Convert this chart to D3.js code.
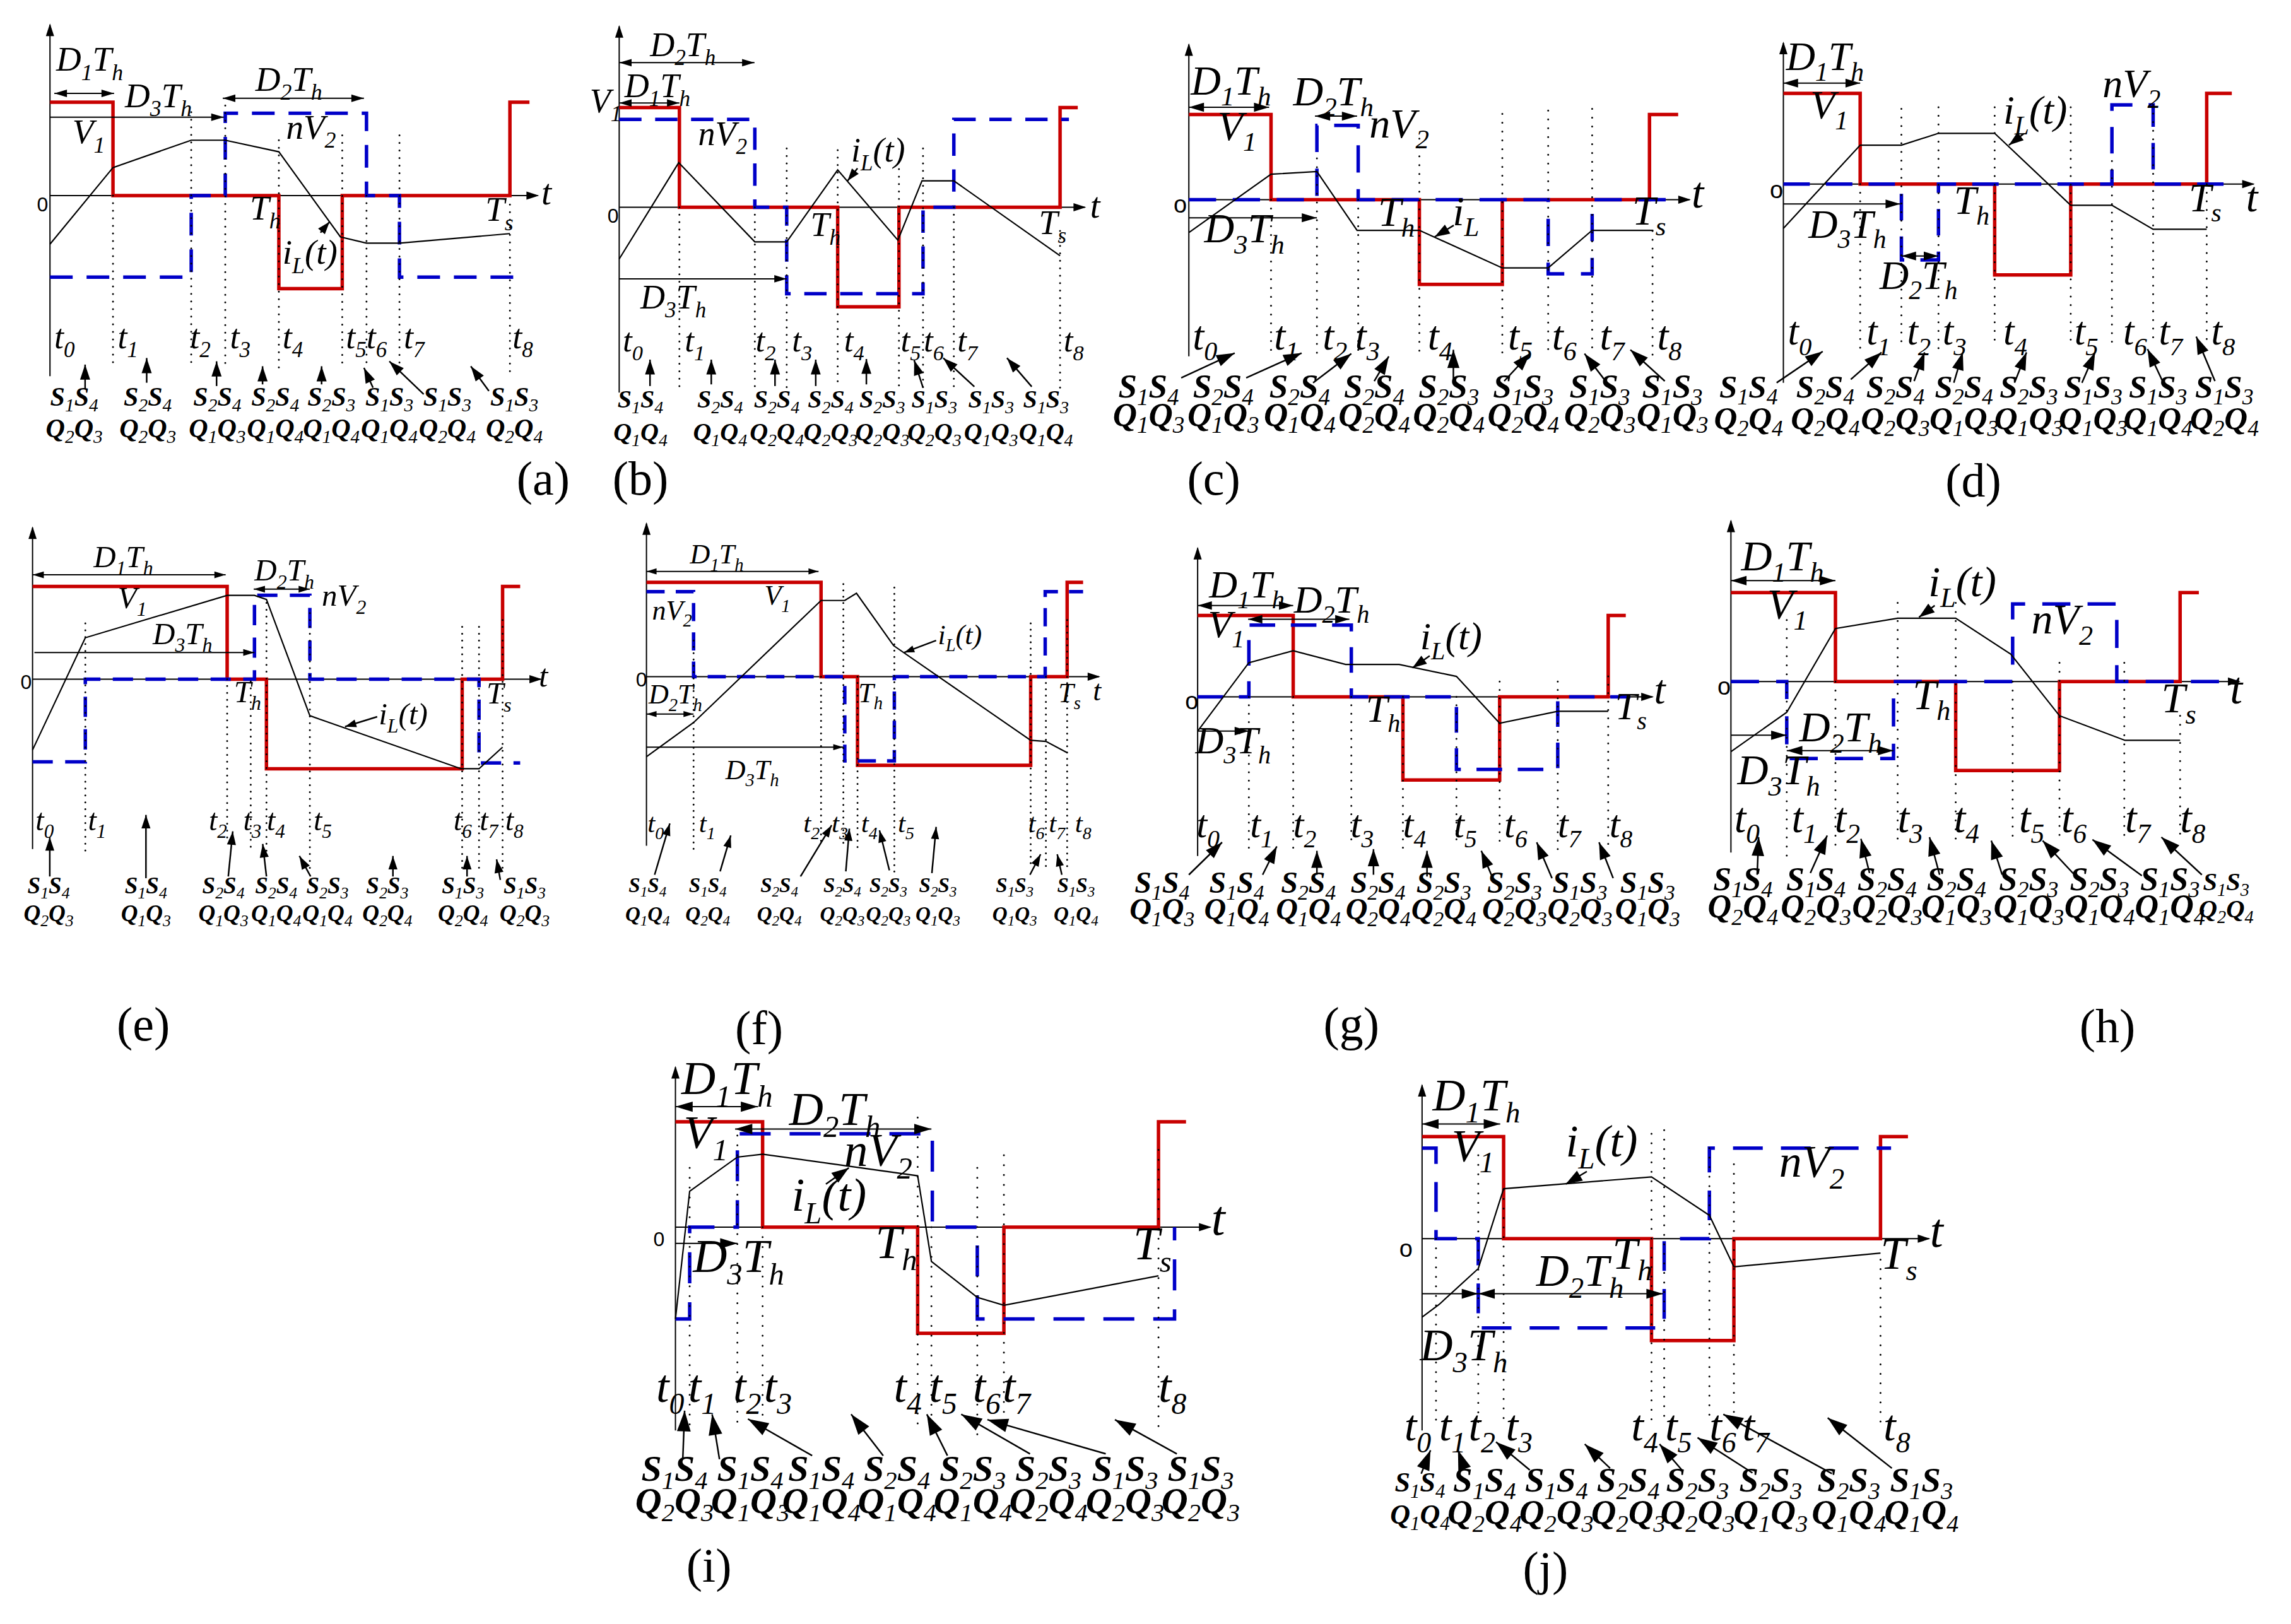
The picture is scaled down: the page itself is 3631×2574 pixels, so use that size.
<!DOCTYPE html>
<html><head><meta charset="utf-8">
<script src="https://cdn.jsdelivr.net/npm/d3@7"></script>
<style>html,body{margin:0;padding:0;background:#fff;}svg{display:block;}</style>
</head><body><svg id="c" width="3631" height="2574"></svg>
<script>
// ---------------- DATA (arbitrary units) ----------------
const panelNames = ['(a)','(b)','(c)','(d)','(e)','(f)','(g)','(h)','(i)','(j)'];
const tickLabels = ['t_0','t_1','t_2','t_3','t_4','t_5','t_6','t_7','t_8'];
const zeroLabels = ['0','0','o','o','0','0','o','o','0','o'];

// time instants t0..t8 per panel
const tTimes = [
 [0,174,390,484,632,807,874,965,1270],
 [0,170,383,473,617,790,858,945,1245],
 [0,215,335,443,603,820,940,1055,1213],
 [0,205,315,414,564,767,877,987,1130],
 [0,141,520,583,625,741,1148,1193,1256],
 [0,133,493,556,596,700,1085,1128,1188],
 [0,134,250,402,537,677,790,942,1074],
 [0,149,279,445,600,752,877,1050,1199],
 [0,31,135,190,528,558,658,716,1053],
 [0,33,133,193,543,573,680,738,1085]];

// V1 (red) step waveform: [time, level] (step-after)
const v1Wave = [
 [[0,283],[174,0],[632,-282],[807,0],[1270,283],[1324,283]],
 [[0,302],[170,0],[617,-302],[790,0],[1245,302],[1295,302]],
 [[0,258],[215,0],[603,-257],[820,0],[1205,258],[1280,258]],
 [[0,275],[205,0],[564,-275],[767,0],[1130,275],[1197,275]],
 [[0,271],[520,0],[625,-262],[1148,0],[1256,271],[1303,271]],
 [[0,276],[493,0],[596,-259],[1085,0],[1188,276],[1233,276]],
 [[0,238],[250,0],[537,-243],[790,0],[1074,238],[1120,238]],
 [[0,260],[279,0],[600,-260],[877,0],[1199,260],[1249,260]],
 [[0,293],[190,0],[528,-295],[716,0],[1053,293],[1113,293]],
 [[0,284],[193,0],[543,-283],[738,0],[1085,284],[1150,284]]];

// nV2 (blue dashed) step waveform
const nv2Wave = [
 [[0,-247],[390,0],[484,250],[874,0],[965,-247],[1297,-247]],
 [[0,266],[383,0],[473,-262],[858,0],[945,266],[1270,266]],
 [[0,0],[335,225],[443,0],[940,-225],[1055,0],[1275,0]],
 [[0,0],[315,-230],[414,0],[877,240],[987,0],[1197,0]],
 [[0,-242],[141,0],[593,245],[741,0],[1193,-245],[1303,-245]],
 [[0,249],[133,0],[560,-246],[700,0],[1126,249],[1233,249]],
 [[0,0],[134,210],[402,0],[677,-212],[942,0],[1132,0]],
 [[0,0],[149,-225],[434,0],[752,227],[1030,0],[1352,0]],
 [[0,-255],[31,0],[135,260],[560,0],[658,-255],[1088,0]],
 [[0,252],[33,0],[133,-248],[573,0],[680,252],[1110,252]]];

// inductor current iL(t) (piecewise linear)
const iLWave = [
 [[0,-147],[174,85],[390,168],[484,168],[632,133],[802,-125],[874,-144],[965,-144],[1270,-115]],
 [[0,-157],[168,135],[383,-105],[473,-105],[617,113],[787,-100],[855,80],[945,80],[1245,-147]],
 [[0,-100],[215,77],[335,85],[440,-93],[603,-93],[820,-207],[940,-207],[1055,-93],[1215,-93]],
 [[0,-134],[205,118],[315,118],[414,154],[564,154],[767,-64],[877,-64],[987,-137],[1130,-137]],
 [[0,-207],[141,121],[520,245],[593,245],[625,233],[741,-107],[1145,-262],[1193,-262],[1256,-199]],
 [[0,-234],[133,-134],[493,223],[560,223],[593,244],[698,91],[1085,-186],[1128,-189],[1188,-222]],
 [[0,-100],[134,100],[250,135],[387,95],[527,95],[677,60],[790,-77],[942,-42],[1074,-42]],
 [[0,-205],[149,-90],[279,155],[445,185],[600,185],[747,80],[877,-100],[1052,-172],[1199,-172]],
 [[0,-255],[31,100],[135,195],[190,203],[528,143],[558,-95],[658,-195],[716,-217],[1053,-135]],
 [[0,-218],[40,-183],[133,-83],[193,139],[543,172],[680,65],[738,-78],[1085,-40]]];

// switching states per interval
const switchS = [
 ['S_1S_4','S_2S_4','S_2S_4','S_2S_4','S_2S_3','S_1S_3','S_1S_3','S_1S_3'],
 ['S_1S_4','S_2S_4','S_2S_4','S_2S_4','S_2S_3','S_1S_3','S_1S_3','S_1S_3'],
 ['S_1S_4','S_2S_4','S_2S_4','S_2S_4','S_2S_3','S_1S_3','S_1S_3','S_1S_3'],
 ['S_1S_4','S_2S_4','S_2S_4','S_2S_4','S_2S_3','S_1S_3','S_1S_3','S_1S_3'],
 ['S_1S_4','S_1S_4','S_2S_4','S_2S_4','S_2S_3','S_2S_3','S_1S_3','S_1S_3'],
 ['S_1S_4','S_1S_4','S_2S_4','S_2S_4','S_2S_3','S_2S_3','S_1S_3','S_1S_3'],
 ['S_1S_4','S_1S_4','S_2S_4','S_2S_4','S_2S_3','S_2S_3','S_1S_3','S_1S_3'],
 ['S_1S_4','S_1S_4','S_2S_4','S_2S_4','S_2S_3','S_2S_3','S_1S_3','S_1S_3'],
 ['S_1S_4','S_1S_4','S_1S_4','S_2S_4','S_2S_3','S_2S_3','S_1S_3','S_1S_3'],
 ['S_1S_4','S_1S_4','S_1S_4','S_2S_4','S_2S_3','S_2S_3','S_2S_3','S_1S_3']];
const switchQ = [
 ['Q_2Q_3','Q_2Q_3','Q_1Q_3','Q_1Q_4','Q_1Q_4','Q_1Q_4','Q_2Q_4','Q_2Q_4'],
 ['Q_1Q_4','Q_1Q_4','Q_2Q_4','Q_2Q_3','Q_2Q_3','Q_2Q_3','Q_1Q_3','Q_1Q_4'],
 ['Q_1Q_3','Q_1Q_3','Q_1Q_4','Q_2Q_4','Q_2Q_4','Q_2Q_4','Q_2Q_3','Q_1Q_3'],
 ['Q_2Q_4','Q_2Q_4','Q_2Q_3','Q_1Q_3','Q_1Q_3','Q_1Q_3','Q_1Q_4','Q_2Q_4'],
 ['Q_2Q_3','Q_1Q_3','Q_1Q_3','Q_1Q_4','Q_1Q_4','Q_2Q_4','Q_2Q_4','Q_2Q_3'],
 ['Q_1Q_4','Q_2Q_4','Q_2Q_4','Q_2Q_3','Q_2Q_3','Q_1Q_3','Q_1Q_3','Q_1Q_4'],
 ['Q_1Q_3','Q_1Q_4','Q_1Q_4','Q_2Q_4','Q_2Q_4','Q_2Q_3','Q_2Q_3','Q_1Q_3'],
 ['Q_2Q_4','Q_2Q_3','Q_2Q_3','Q_1Q_3','Q_1Q_3','Q_1Q_4','Q_1Q_4','Q_2Q_4'],
 ['Q_2Q_3','Q_1Q_3','Q_1Q_4','Q_1Q_4','Q_1Q_4','Q_2Q_4','Q_2Q_3','Q_2Q_3'],
 ['Q_1Q_4','Q_2Q_4','Q_2Q_3','Q_2Q_3','Q_2Q_3','Q_1Q_3','Q_1Q_4','Q_1Q_4']];

// text annotations [label, time, level]
const annotations = [
 [['D_1T_h',17,378],['D_3T_h',207,268],['D_2T_h',567,318],['V_1',62,158],['nV_2',652,173],['T_h',552,-72],['T_s',1202,-77],['i_L(t)',642,-207]],
 [['D_2T_h',87,458],['D_1T_h',15,333],['V_1',-83,288],['nV_2',223,188],['i_L(t)',655,138],['T_h',540,-87],['T_s',1185,-82],['D_3T_h',60,-307]],
 [['D_1T_h',5,318],['D_2T_h',273,286],['V_1',75,180],['nV_2',472,188],['D_3T_h',40,-130],['T_h',495,-80],['i_L',690,-77],['T_s',1160,-75]],
 [['D_1T_h',7,346],['V_1',72,198],['D_3T_h',67,-162],['D_2T_h',257,-317],['T_h',455,-90],['i_L(t)',587,183],['nV_2',852,263],['T_s',1082,-82]],
 [['D_1T_h',163,328],['V_1',228,208],['D_3T_h',321,103],['D_2T_h',593,288],['nV_2',773,215],['T_h',538,-67],['i_L(t)',925,-132],['T_s',1213,-72]],
 [['D_1T_h',123,331],['V_1',333,211],['nV_2',16,168],['D_2T_h',6,-79],['D_3T_h',223,-299],['T_h',598,-74],['i_L(t)',823,96],['T_s',1163,-74]],
 [['D_1T_h',30,290],['D_2T_h',252,247],['V_1',27,175],['i_L(t)',582,140],['T_h',440,-73],['D_3T_h',-6,-165],['T_s',1092,-65]],
 [['D_1T_h',27,325],['V_1',97,185],['i_L(t)',527,250],['nV_2',802,140],['T_h',485,-80],['D_2T_h',182,-175],['D_3T_h',17,-300],['T_s',1149,-90]],
 [['D_1T_h',13,370],['D_2T_h',248,285],['V_1',18,220],['nV_2',368,170],['i_L(t)',253,45],['D_3T_h',38,-125],['T_h',436,-85],['T_s',998,-90]],
 [['D_1T_h',25,357],['V_1',70,217],['i_L(t)',340,229],['nV_2',845,172],['T_h',450,-83],['D_2T_h',270,-131],['D_3T_h',-5,-338],['T_s',1085,-83]]];

// ---------------- LAYOUT ----------------
const FRAME = 1568;
const panelBox = [[0,0,900,820],[900,0,880,820],[1760,0,950,820],[2700,0,931,820],
 [0,820,930,850],[900,820,880,850],[1760,820,950,850],[2700,820,931,850],
 [960,1680,1140,894],[2140,1680,1050,894]];
const panelOrigin = [[138,593],[145,628],[205,605],[213,558],[87,473],[222,466],[228,525],[73,480],[152,465],[170,497]];
const axisTop = [518,548,470,428,443,448,435,470,445,427];
const axisBottom = [-547,-562,-475,-602,-497,-494,-465,-500,-565,-533];
const axisEnd = [1347,1315,1310,1255,1358,1278,1190,1357,1166,1200];
const annoSize = [55,54,66,64,49,44,62,68,75,72];
const switchSize = [42,40,53,51,37,33,48,52,58,55];
const switchFirstScale = [1,1,1,1,1,1,1,1,1,0.8];
const switchLastScale = [1,1,1,1,1,1,1,0.78,1,1];
const dotTop = [
 [0,253,273,168,183,0,183,-27],[0,0,178,173,138,178,0,-72],[0,125,0,185,260,270,275,-95],
 [0,228,233,233,233,70,240,0],[163,0,-7,223,193,153,153,173],[106,0,271,0,261,156,0,166],
 [0,0,0,0,0,45,45,60],[180,0,230,230,0,55,55,-100],[165,255,0,305,0,165,200,215],
 [0,232,137,292,302,252,207,-58]];
const dotBottom = [
 [-512,-527,-512,-537,-517,-527,-512,-532],[-562,-547,-547,-547,-547,-547,-547,-547],
 [-465,-470,-470,-470,-470,-470,-470,-470],[-507,-492,-517,-487,-487,-482,-482,-482],
 [-502,-467,-492,-502,-552,-567,-557,-552],[-514,-494,-494,-504,-574,-554,-559,-554],
 [-465,-445,-440,-445,-440,-440,-445,-450],[-510,-490,-480,-465,-460,-470,-450,-470],
 [-555,-560,-570,-555,-535,-590,-555,-580],[-513,-533,-513,-508,-498,-503,-503,-513]];
const tLabelX = [
 [12,187,387,497,642,817,874,977,1277],[10,185,385,488,635,795,860,955,1255],
 [10,223,350,435,625,835,950,1075,1225],[12,222,330,425,587,777,907,1002,1142],
 [8,148,471,563,626,751,1125,1195,1263],[3,148,443,523,606,710,1078,1136,1210],
 [-3,137,250,400,537,670,802,942,1077],[9,162,277,445,595,769,882,1052,1199],
 [-42,28,126,193,476,553,648,713,1053],[-42,40,110,198,495,575,680,758,1092]];
const tLabelY = [-462,-437,-455,-487,-442,-454,-410,-440,-485,-561];
const switchX = [
 [67,270,462,622,777,937,1097,1282],[60,285,445,597,743,890,1050,1205],
 [-105,90,290,485,680,875,1075,1265],[-93,112,299,482,655,827,1000,1177],
 [43,303,510,651,788,948,1150,1315],[3,173,375,553,683,823,1040,1213],
 [-93,102,290,472,644,829,1000,1177],[32,227,417,602,795,984,1172,1322],
 [-2,163,318,483,648,813,980,1145],[-5,148,318,488,652,825,1010,1182]];
const switchSY = [-637,-607,-600,-647,-627,-629,-573,-610,-705,-703];
const switchQY = [-732,-707,-685,-742,-707,-714,-650,-690,-795,-793];
const switchArrows = [
 [[97,-587,97,-512],[267,-567,267,-492],[460,-577,460,-502],[587,-572,587,-517],[750,-572,750,-517],[892,-582,867,-522],[1032,-602,937,-502],[1212,-592,1162,-517]],
 [[87,-542,87,-462],[260,-537,260,-462],[440,-542,440,-462],[555,-542,555,-462],[698,-537,698,-460],[858,-547,833,-464],[1003,-544,915,-457],[1165,-544,1095,-457]],
 [[-20,-540,120,-465],[150,-540,295,-465],[325,-555,425,-467],[485,-550,523,-475],[692,-550,692,-455],[825,-550,893,-465],[1090,-550,1035,-467],[1245,-550,1155,-455]],
 [[-18,-602,105,-507],[180,-592,262,-510],[349,-597,377,-510],[455,-602,479,-510],[617,-602,649,-510],[797,-602,832,-510],[1012,-597,972,-500],[1152,-597,1102,-462]],
 [[46,-577,46,-462],[303,-582,303,-397],[523,-577,535,-445],[625,-577,615,-482],[743,-577,713,-517],[963,-577,963,-517],[1161,-577,1161,-517],[1250,-587,1240,-527]],
 [[23,-579,66,-429],[208,-569,238,-464],[435,-584,523,-434],[563,-569,573,-444],[686,-566,658,-449],[806,-574,818,-439],[1083,-579,1113,-519],[1173,-579,1160,-519]],
 [[-23,-520,64,-425],[170,-520,207,-437],[312,-520,312,-450],[460,-520,460,-445],[600,-525,600,-450],[772,-530,742,-450],[927,-530,887,-425],[1087,-530,1050,-425]],
 [[70,-565,74,-455],[212,-560,257,-450],[370,-560,347,-460],[557,-565,530,-455],[724,-565,695,-465],[917,-565,832,-465],[1097,-568,965,-462],[1257,-565,1149,-455]],
 [[16,-645,20,-510],[96,-645,80,-520],[298,-635,158,-533],[453,-635,383,-520],[593,-635,548,-520],[773,-630,623,-520],[938,-630,680,-535],[1093,-630,958,-535]],
 [[-2,-653,20,-588],[100,-638,85,-588],[255,-643,175,-565],[445,-638,385,-571],[615,-643,562,-571],[782,-651,652,-553],[970,-653,713,-488],[1112,-638,960,-498]]];
const iLPointer = [[747,-112,772,-79],[673,118,645,80],[693,-78,643,-113],[642,153,602,118],[921,-110,835,-139],
 [818,106,728,71],[607,120,562,85],[544,222,502,188],[328,120,378,165],[390,187,340,152]];
// dimension arrows [t1, t2, level, double-headed]
const dimArrows = [
 [[12,177,310,1],[0,480,238,0],[477,867,295,1]],
 [[0,382,438,1],[0,170,316,1],[0,473,-217,0]],
 [[0,210,280,1],[330,440,253,1],[0,335,-55,0]],
 [[0,205,306,1],[0,312,-60,0],[315,414,-218,1]],
 [[0,516,305,1],[5,593,78,0],[591,741,263,1]],
 [[0,486,308,1],[0,133,-109,1],[0,556,-206,0]],
 [[0,250,267,1],[132,397,227,1],[0,134,-100,0]],
 [[0,279,295,1],[149,434,-202,1],[0,149,-157,0]],
 [[0,180,335,1],[130,558,273,1],[0,135,-45,0]],
 [[0,185,319,1],[133,570,-153,1],[0,133,-153,0]]];
// short black dashed segment on the zero line (panel i only) [t1, t2]
const zeroDash = [null,null,null,null,null,null,null,null,[293,393],null];
const tAxisLabel = [[1357,-27],[1330,-32],[1315,-25],[1235,-82],[1353,-22],[1261,-69],[1194,-20],[1332,-65],[1168,-20],[1202,-23]];
const zeroLabelPos = [[-36,-47],[-33,-47],[-40,-40],[-36,-42],[-32,-29],[-30,-29],[-33,-35],[-36,-38],[-48,-52],[-54,-50]];
const panelLabelPos = [[1362,-907],[60,-872],[65,-895],[507,-947],[296,-1057],[318,-1074],[402,-1005],[1005,-1055],[73,-985],[292,-963]];

const RED = '#c80000', BLUE = '#0000c8';
const SERIF = '"Liberation Serif","Times New Roman",serif';
const SANS = '"Liberation Sans",Arial,sans-serif';

// ---------------- DRAWING ----------------
const svg = d3.select('#c');
svg.append('rect').attr('width',3631).attr('height',2574).attr('fill','#fff');

function parseRich(str){
  const out=[];
  for(let k=0;k<str.length;k++){
    let sub=false, c=str[k];
    if(c==='_'){ sub=true; c=str[++k]; }
    if(out.length && out[out.length-1].sub===sub) out[out.length-1].c+=c;
    else out.push({c,sub});
  }
  return out;
}
function richText(g,str,px,py,size,o){
  o=o||{};
  const t=g.append('text').attr('x',px).attr('y',py).attr('font-size',size)
    .attr('font-family',o.family||SERIF).attr('font-style',o.style||'italic')
    .attr('text-anchor',o.anchor||'start').attr('fill','#000');
  let cur=false;
  const sr=o.subRatio||0.65, sh=size*(o.shift||0.26);
  parseRich(str).forEach(p=>{
    const dy=p.sub===cur?0:(p.sub?sh:-sh);
    t.append('tspan').attr('dy',dy).attr('font-size',p.sub?size*sr:size)
      .attr('font-weight',p.sub?(o.subWeight||'normal'):(o.weight||'normal')).text(p.c);
    cur=p.sub;
  });
  return t;
}
function head(g,x1,y1,x2,y2,len,hw){
  const a=Math.atan2(y2-y1,x2-x1);
  const bx=x2-len*Math.cos(a), by=y2-len*Math.sin(a);
  const nx=-Math.sin(a)*hw, ny=Math.cos(a)*hw;
  g.append('path').attr('d',`M${x2},${y2}L${bx+nx},${by+ny}L${bx-nx},${by-ny}Z`).attr('fill','#000');
}
function arrow(g,x1,y1,x2,y2,len,hw,both,w){
  g.append('line').attr('x1',x1).attr('y1',y1).attr('x2',x2).attr('y2',y2)
    .attr('stroke','#000').attr('stroke-width',w||2);
  head(g,x1,y1,x2,y2,len,hw);
  if(both) head(g,x2,y2,x1,y1,len,hw);
}

panelNames.forEach((name,i)=>{
  const [bx,by,bw,bh]=panelBox[i];
  const [ox,oy]=panelOrigin[i];
  const x=d3.scaleLinear().domain([-ox,FRAME-ox]).range([bx,bx+bw]);
  const y=d3.scaleLinear().domain([oy,oy-FRAME]).range([by,by+bh]);
  const fs=annoSize[i], ss=switchSize[i], k=fs/55;
  const g=svg.append('g').attr('class','panel');

  // axes
  g.append('line').attr('x1',x(0)).attr('x2',x(0)).attr('y1',y(axisBottom[i])).attr('y2',y(axisTop[i]))
    .attr('stroke','#000').attr('stroke-width',2);
  head(g,x(0),y(axisBottom[i]),x(0),y(axisTop[i])-2,20,6.5);
  g.append('line').attr('x1',x(0)).attr('x2',x(axisEnd[i])).attr('y1',y(0)).attr('y2',y(0))
    .attr('stroke','#000').attr('stroke-width',2);
  head(g,x(0),y(0),x(axisEnd[i])+2,y(0),20,6.5);
  if(zeroDash[i]) g.append('line').attr('x1',x(zeroDash[i][0])).attr('x2',x(zeroDash[i][1]))
    .attr('y1',y(0)).attr('y2',y(0)).attr('stroke','#000').attr('stroke-width',4).attr('stroke-dasharray','22,12');

  // waveforms
  const step=d3.line().x(d=>x(d[0])).y(d=>y(d[1])).curve(d3.curveStepAfter);
  g.append('path').attr('d',step(v1Wave[i])).attr('fill','none').attr('stroke',RED)
    .attr('stroke-width',5.5).attr('stroke-linejoin','miter');
  g.append('path').attr('d',step(nv2Wave[i])).attr('fill','none').attr('stroke',BLUE)
    .attr('stroke-width',5.5).attr('stroke-dasharray',`${36*k},${22*k}`);
  const lin=d3.line().x(d=>x(d[0])).y(d=>y(d[1]));
  g.append('path').attr('d',lin(iLWave[i])).attr('fill','none').attr('stroke','#000').attr('stroke-width',2.2);

  // dotted time markers
  tTimes[i].slice(1).forEach((t,j)=>{
    g.append('line').attr('x1',x(t)).attr('x2',x(t)).attr('y1',y(dotTop[i][j])).attr('y2',y(dotBottom[i][j]))
      .attr('stroke','#000').attr('stroke-width',3).attr('stroke-linecap','round')
      .attr('stroke-dasharray',`0,${10*k+2}`);
  });

  // time labels
  tickLabels.forEach((lab,j)=>richText(g,lab,x(tLabelX[i][j]),y(tLabelY[i]),fs*0.98));

  // dimension arrows
  dimArrows[i].forEach(d=>arrow(g,x(d[0]),y(d[2]),x(d[1]),y(d[2]),20*k,6*k,d[3],2));

  // annotations
  annotations[i].forEach(a=>richText(g,a[0],x(a[1]),y(a[2]),fs));
  const p=iLPointer[i];
  arrow(g,x(p[0]),y(p[1]),x(p[2]),y(p[3]),20*k,7*k,false,2.5);

  // axis labels
  richText(g,'t',x(tAxisLabel[i][0]),y(tAxisLabel[i][1]),fs*1.05);
  g.append('text').attr('x',x(zeroLabelPos[i][0])).attr('y',y(zeroLabelPos[i][1]))
    .attr('font-family',SANS).attr('font-size',zeroLabels[i]==='o'?38:32).text(zeroLabels[i]);

  // switch states
  switchS[i].forEach((s,j)=>{
    const sc = j===0?switchFirstScale[i]:(j===7?switchLastScale[i]:1);
    const opt={weight:'bold',anchor:'middle',subRatio:0.7,shift:0.22};
    richText(g,s,x(switchX[i][j]),y(switchSY[i]),ss*sc,opt);
    richText(g,switchQ[i][j],x(switchX[i][j]),y(switchQY[i]),ss*sc,opt);
  });
  switchArrows[i].forEach(a=>arrow(g,x(a[0]),y(a[1]),x(a[2]),y(a[3]),24*k,8*k,false,2.5));

  // panel label
  g.append('text').attr('x',x(panelLabelPos[i][0])).attr('y',y(panelLabelPos[i][1]))
    .attr('font-family',SERIF).attr('font-size',76).attr('text-anchor','middle').text(name);
});
</script></body></html>
